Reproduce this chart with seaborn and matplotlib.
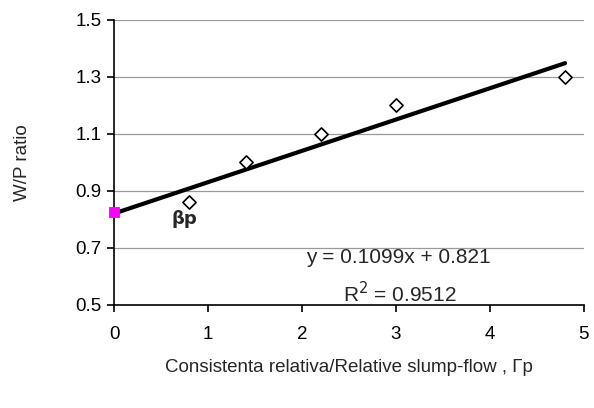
import matplotlib
matplotlib.use("Agg")
import matplotlib.pyplot as plt
import seaborn as sns
import numpy as np
import pandas as pd

# Data
x_vals = [0.8, 1.4, 2.2, 3.0, 4.8]
wp_ratio = [0.862, 1.0, 1.1, 1.2, 1.3]
slope = 0.1099
intercept = 0.821
fit_x = [0.0, 4.8]
beta_x = [0.0]
beta_y = [0.825]
xticks = [0, 1, 2, 3, 4, 5]
yticks = [0.5, 0.7, 0.9, 1.1, 1.3, 1.5]

sns.set_theme(style="white")
plt.rcParams['font.family'] = ['Liberation Sans', 'DejaVu Sans']

fig = plt.figure(figsize=(5.94, 4.08), dpi=100)
ax = fig.add_axes([0.192, 0.2525, 0.791, 0.6985])

for yt in yticks[1:]:
    ax.axhline(yt, color='#999999', lw=0.9, zorder=0)

fit_df = pd.DataFrame({"x": fit_x, "y": [slope * v + intercept for v in fit_x]})
sns.lineplot(data=fit_df, x="x", y="y", color='black', lw=3, ax=ax, zorder=3)

pts = pd.DataFrame({"x": x_vals, "y": wp_ratio})
sns.scatterplot(data=pts, x="x", y="y", marker='D', s=45, facecolor='white',
                edgecolor='black', linewidth=1.2, ax=ax, zorder=4)

bdf = pd.DataFrame({"x": beta_x, "y": beta_y})
sns.scatterplot(data=bdf, x="x", y="y", marker='s', s=60, color='#ff00ff',
                edgecolor='#ff00ff', ax=ax, zorder=5, clip_on=False)

ax.set_xlim(0, 5)
ax.set_ylim(0.5, 1.5)
ax.set_xticks(xticks)
ax.set_yticks(yticks)
ax.set_xticklabels([str(v) for v in xticks])
ax.set_yticklabels([f"{v:.1f}" for v in yticks])
for s in ['top', 'right']:
    ax.spines[s].set_visible(False)
for s in ['left', 'bottom']:
    ax.spines[s].set_color('black')
    ax.spines[s].set_linewidth(1.2)
ax.tick_params(axis='both', which='major', direction='out', length=5, width=1.2,
               color='black', labelsize=13.5, labelcolor='black', pad=4,
               bottom=True, left=True)
ax.tick_params(axis='x', pad=10)

ax.set_xlabel("Consistenta relativa/Relative slump-flow , \u0393p", fontsize=13.5, labelpad=12)
ax.set_ylabel("W/P ratio", fontsize=13.5, labelpad=32)

ax.text(0.75, 0.80, "\u03b2p", fontsize=13, fontweight='bold', ha='center', va='center',
        family=['DejaVu Sans'])
ax.text(3.03, 0.665, "y = 0.1099x + 0.821", fontsize=15, ha='center', va='center')
ax.text(3.04, 0.54, "R$^2$ = 0.9512", fontsize=15, ha='center', va='center')

fig.savefig("out.png", dpi=100)
